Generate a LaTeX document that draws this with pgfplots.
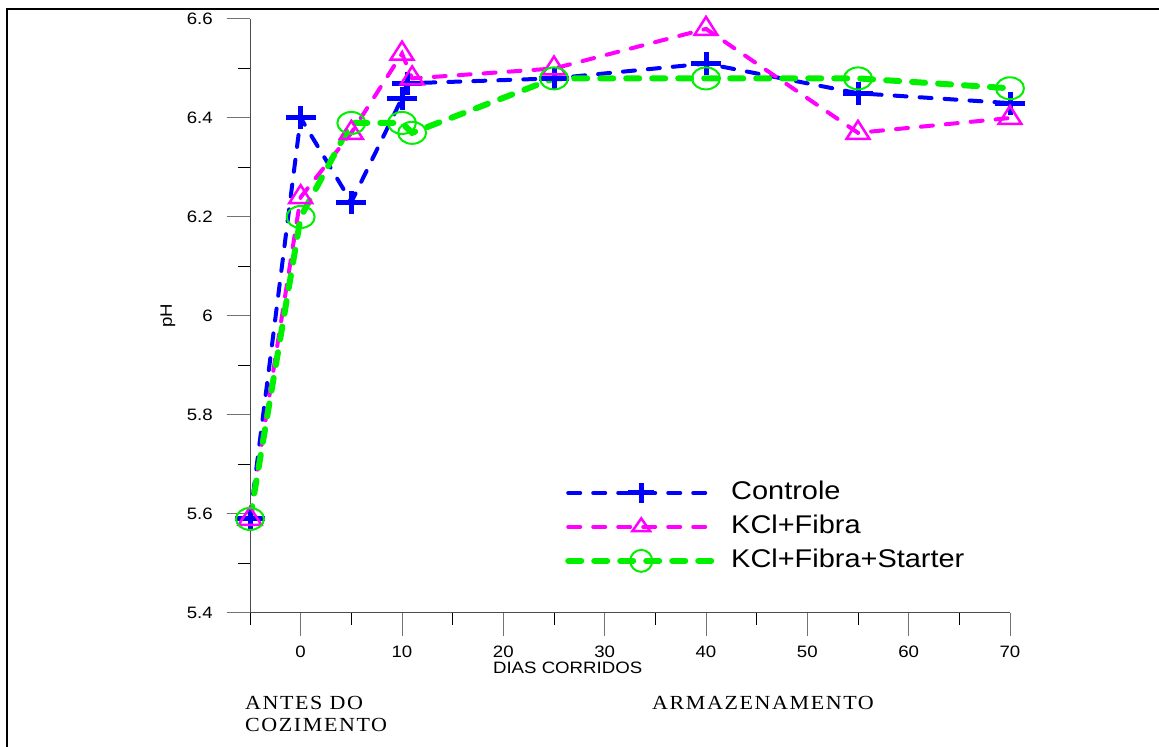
\documentclass[border=0pt]{standalone}
\usepackage{pgfplots}
\pgfplotsset{compat=1.18}
\usepackage{fontspec}
\setmainfont{Liberation Sans}[FakeStretch=1.13]
\newfontfamily\serifx{Liberation Serif}[FakeStretch=1.1,LetterSpace=8]
\definecolor{cblue}{RGB}{0,0,255}
\definecolor{cmag}{RGB}{255,0,255}
\definecolor{cgreen}{RGB}{0,240,0}
\begin{document}
\begin{tikzpicture}
\useasboundingbox (0,0) rectangle (1159bp,747bp);
\draw[line width=2.5bp] (7bp,-20bp) -- (7bp,738bp) -- (1180bp,738bp);
\begin{axis}[
  at={(250bp,134bp)}, anchor=south west,
  scale only axis, width=760bp, height=594bp,
  xmin=-5, xmax=70, ymin=5.4, ymax=6.6,
  axis lines=left, axis line style={-, black!70, line width=1bp},
  clip=false,
  xtick={0,10,20,30,40,50,60,70}, minor xtick={-5,5,15,25,35,45,55,65},
  ytick={5.4,5.6,5.8,6,6.2,6.4,6.6}, minor ytick={5.5,5.7,5.9,6.1,6.3,6.5},
  tick align=outside,
  major tick length=23bp, minor tick length=12bp,
  major tick style={black!55, line width=1bp},
  minor tick style={black, line width=1bp},
  tick label style={font=\fontsize{16.5bp}{18bp}\selectfont},
  /pgf/number format/assume math mode=true,
  xticklabel style={anchor=north, inner sep=0pt, yshift=-10bp},
  yticklabel style={anchor=east, inner sep=0pt, xshift=-14bp},
  ylabel={pH},
  ylabel style={at={(axis description cs:-0.108,0.5)}, anchor=center, font=\fontsize{16.5bp}{18bp}\selectfont},
  xlabel={DIAS CORRIDOS},
  xlabel style={at={(axis description cs:0.418,-0.0925)}, anchor=center, font=\fontsize{16.5bp}{18bp}\selectfont},
  legend style={draw=none, fill=none, at={(axis cs:26.09,5.574)}, anchor=west,
    inner sep=0pt, column sep=14bp, row sep=8bp,
    font=\fontsize{25.6bp}{30bp}\selectfont,
    nodes={inner sep=0pt, text height=20bp, text depth=6bp}},
  legend cell align=left,
  legend image code/.code={\draw[mark repeat=2, mark phase=2, #1] plot coordinates {(0bp,0bp) (73bp,0bp) (146bp,0bp)};},
]
\addlegendimage{cblue, line width=4bp, dash pattern=on 12bp off 13bp, line cap=round,
  mark=+, mark size=10bp, mark options={solid, line cap=butt, line width=5bp, xscale=1.3}}
\addlegendentry{Controle}
\addlegendimage{cmag, line width=4bp, dash pattern=on 12bp off 13bp, line cap=round,
  mark=triangle, mark size=8.5bp, mark options={solid, line cap=butt, line width=2.5bp, xscale=1.2}}
\addlegendentry{KCl+Fibra}
\addlegendimage{cgreen, line width=6bp, dash pattern=on 13bp off 13bp, line cap=round,
  mark=o, mark size=11bp, mark options={solid, line width=2bp, fill=none}}
\addlegendentry{KCl+Fibra+Starter}
\addplot[forget plot, cblue, line width=4bp, dash pattern=on 12bp off 13bp, line cap=round,
  mark=+, mark size=11.5bp, mark options={solid, line cap=butt, line width=5bp, xscale=1.3}]
  coordinates {(-5,5.59) (0,6.40) (5,6.23) (10,6.44) (10.5,6.47) (25,6.48) (40,6.51) (55,6.45) (70,6.43)};
\addplot[forget plot, cmag, line width=4bp, dash pattern=on 12bp off 13bp, line cap=round,
  mark=triangle, mark size=12bp, mark options={solid, line cap=butt, line width=2.5bp, xscale=1.1}]
  coordinates {(-5,5.59) (0,6.24) (5,6.37) (10,6.53) (11,6.48) (25,6.50) (40,6.58) (55,6.37) (70,6.40)};
\addplot[forget plot, cgreen, line width=6bp, dash pattern=on 13bp off 13bp, line cap=round,
  mark=o, mark size=11bp, mark options={solid, line width=2bp, xscale=1.27, fill=none}]
  coordinates {(-5,5.59) (0,6.20) (5,6.39) (10,6.39) (11,6.37) (25,6.48) (40,6.48) (55,6.48) (70,6.46)};
\end{axis}
\node[anchor=west, inner sep=0pt, font=\serifx\fontsize{20bp}{22bp}\selectfont] at (245bp,44bp) {ANTES DO};
\node[anchor=west, inner sep=0pt, font=\serifx\fontsize{20bp}{22bp}\selectfont] at (245bp,22bp) {COZIMENTO};
\node[anchor=west, inner sep=0pt, font=\serifx\fontsize{20bp}{22bp}\selectfont] at (652bp,44bp) {ARMAZENAMENTO};
\end{tikzpicture}
\end{document}
